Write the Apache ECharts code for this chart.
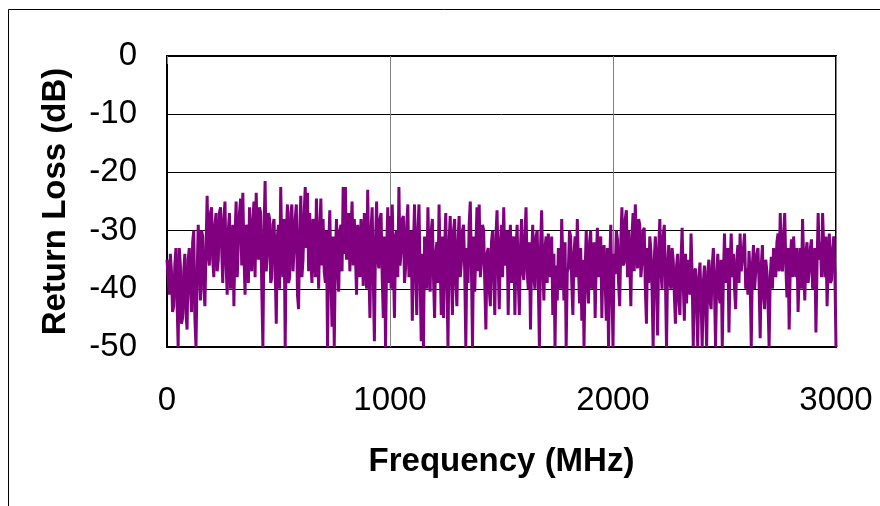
<!DOCTYPE html>
<html>
<head>
<meta charset="utf-8">
<title>Return Loss</title>
<script src="https://cdn.jsdelivr.net/npm/echarts@6/dist/echarts.min.js"></script>
<style>
  html, body { margin: 0; padding: 0; background: #fff; }
  #main { width: 880px; height: 506px; }
</style>
</head>
<body>
<div id="main"></div>
<script>
// sweep 0 - 3000 MHz, one reading every 5 MHz (one row = 100 MHz)
var freqStep = 5;
var returnLoss = [
  -35, -38, -41, -34, -37, -44, -43, -36, -33, -42, -50, -33, -36, -46, -45, -37, -34, -44, -47, -35,
  -33, -40, -44, -32, -30, -45, -50, -38, -29, -35, -42, -30, -31, -40, -43, -33, -24, -34, -36, -27,
  -26, -35, -38, -29, -27, -37, -35, -27, -26, -33, -39, -28, -25, -36, -41, -30, -27, -40, -36, -29,
  -43, -31, -25, -38, -32, -27, -24.5, -36, -23.5, -34, -41, -29, -30, -39, -26, -33, -37, -28, -25, -38,
  -23.5, -32, -35, -26, -27, -40, -50, -30, -21.5, -37, -34, -27, -28, -39, -38, -29, -28, -36, -46, -31,
  -29, -40, -22.5, -34, -38, -28, -50, -31, -25.5, -39, -38, -27, -25.5, -37, -33, -28, -25.5, -41, -43.5, -30,
  -24, -38, -35, -27, -22.5, -33, -23.5, -37, -27, -35, -39, -28, -29, -38, -24.5, -32, -40, -30, -24.5, -36,
  -28, -37, -39, -30, -50, -33, -26.5, -38, -46.5, -31, -50, -35, -28, -36, -40.5, -30, -29, -37, -22.5, -34,
  -22.5, -35, -31.5, -27, -37, -30, -25, -36, -28, -34, -41, -29, -29, -38, -28, -33, -39.5, -27, -33, -40,
  -23, -36, -45, -30, -26, -38, -49, -32, -25, -35, -36.5, -28, -27, -38, -45, -31, -50, -34, -26, -39,
  -27.5, -40, -25.5, -35, -45, -31, -30, -38, -22.5, -36, -33.5, -28, -27.5, -39, -36.5, -29, -25.5, -38, -36.5, -30,
  -45.5, -33, -25.5, -37, -44.5, -30, -25.5, -38, -49, -34, -50, -31, -33, -40, -26, -35, -40.5, -30, -28, -38,
  -45, -34, -32, -39, -25.5, -36, -44.5, -31, -45, -33, -27, -38, -50, -32, -27.5, -37, -44.5, -30, -28, -39,
  -43, -32, -27.5, -38, -35.5, -30, -29, -37, -50, -33, -39, -29, -25, -36, -50, -31, -40.5, -33, -26, -37,
  -25.5, -38, -35.5, -29, -30, -39, -47, -34, -33, -40, -43, -32, -30, -38, -44.5, -31, -26.5, -36, -43.5, -32,
  -29, -38, -26, -36, -35, -30, -44.5, -33, -29, -39, -37, -31, -44.5, -34, -29, -38, -44.5, -33, -28, -37,
  -38.5, -31, -26, -37, -40, -32, -47, -35, -29, -38, -40, -31, -30, -39, -50, -33, -26.5, -36, -42, -33,
  -31, -39, -30.5, -36, -38, -31, -44.5, -34, -50, -36, -42, -33, -33, -40, -28, -35, -42, -32, -50, -37,
  -36.5, -30, -31, -39, -44.5, -34, -31, -38, -28, -36, -42.5, -33, -45.5, -35, -50, -37, -30, -39, -42.5, -32,
  -30, -40, -37, -32, -45, -35, -29.5, -38, -36, -31, -45, -34, -32.5, -39, -45.5, -33, -50, -36, -29, -40,
  -50, -34, -37.5, -30, -31.5, -39, -43, -32, -26, -36, -35.5, -28, -26.5, -38, -30, -35, -43, -31, -27, -37,
  -25.5, -33, -36.5, -28, -29, -38, -35.5, -30, -29.5, -40, -46, -33, -39, -31, -33.5, -40, -50, -35, -31, -39,
  -48, -33, -28, -37, -40, -31, -29, -38, -50, -36, -32.5, -39, -40, -33, -35, -41, -46, -36, -34, -42,
  -44.5, -35, -29.5, -39, -45.5, -34, -42.5, -35, -36, -41, -30.5, -38, -50, -37, -36.5, -43, -50, -38, -35.5, -42,
  -50, -39, -36, -43, -50, -37, -35, -42, -43.5, -36, -33, -40, -50, -38, -34, -41, -42.5, -35, -50, -38,
  -30.5, -39, -37, -33, -47.5, -36, -30.5, -38, -34, -40, -43.5, -35, -32.5, -39, -30.5, -37, -37, -33, -30.5, -40,
  -36.5, -41, -33.5, -38, -50, -36, -32.5, -40, -40, -34, -33, -39, -48.5, -36, -32.5, -41, -43.5, -35, -37, -42,
  -50, -38, -34.5, -40, -33, -36, -38, -32, -30.5, -37, -27, -35, -37, -31, -27, -36, -41.5, -33, -47, -36,
  -31.5, -38, -31, -36, -38, -33, -44, -37, -33, -40, -28, -35, -42, -34, -32, -39, -37, -33, -31.5, -40,
  -37, -33, -47.5, -36, -27, -35, -32, -38, -27, -33, -38, -31, -43, -36, -30.5, -39, -38.5, -33, -31, -37,
  -50
];

var xTicks = [0, 1000, 2000, 3000];
var yTicks = [0, -10, -20, -30, -40, -50];

var points = returnLoss.map(function (v, i) {
  return [i * freqStep, v];
});

var myChart = echarts.init(document.getElementById('main'));
var font = 'Liberation Sans, Arial, sans-serif';
var option = {
  animation: false,
  backgroundColor: '#fff',
  textStyle: { fontFamily: font },
  graphic: [
    { type: 'line', shape: { x1: 8.5, y1: 9.5, x2: 880, y2: 9.5 }, style: { stroke: '#000', lineWidth: 1 } },
    { type: 'line', shape: { x1: 8.5, y1: 9.5, x2: 8.5, y2: 506 }, style: { stroke: '#000', lineWidth: 1 } }
  ],
  grid: {
    left: 167,
    top: 56,
    right: 44,
    bottom: 159,
    show: true,
    borderColor: '#000',
    borderWidth: 2
  },
  xAxis: {
    type: 'value',
    min: xTicks[0],
    max: xTicks[xTicks.length - 1],
    interval: 1000,
    name: 'Frequency (MHz)',
    nameLocation: 'middle',
    nameGap: 98,
    nameTextStyle: { fontSize: 33, fontWeight: 'bold', color: '#000', fontFamily: font },
    axisLine: { lineStyle: { color: '#000', width: 2 } },
    axisTick: { show: true, length: 8, lineStyle: { color: '#808080', width: 1 } },
    axisLabel: {
      fontSize: 33, color: '#000', margin: 37, fontFamily: font,
      formatter: function (v) { return String(v); }
    },
    splitLine: { show: true, lineStyle: { color: '#808080', width: 1 } }
  },
  yAxis: {
    type: 'value',
    min: yTicks[yTicks.length - 1],
    max: yTicks[0],
    interval: 10,
    name: 'Return Loss (dB)',
    nameLocation: 'middle',
    nameGap: 95,
    nameRotate: 90,
    nameTextStyle: { fontSize: 33, fontWeight: 'bold', color: '#000', fontFamily: font },
    axisLine: { show: true, lineStyle: { color: '#000', width: 2 } },
    axisTick: { show: false },
    axisLabel: {
      fontSize: 33, color: '#000', margin: 30, fontFamily: font,
      formatter: function (v) { return String(v); }
    },
    splitLine: { show: true, lineStyle: { color: '#000', width: 1 } }
  },
  series: [{
    name: 'Return Loss',
    type: 'line',
    data: points,
    showSymbol: false,
    lineStyle: { color: '#800080', width: 3 },
    itemStyle: { color: '#800080' }
  }]
};
myChart.setOption(option);
</script>
</body>
</html>
